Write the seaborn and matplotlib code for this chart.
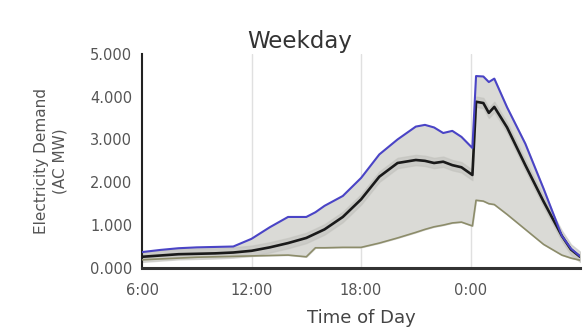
import numpy as np
import pandas as pd
import matplotlib.pyplot as plt
import seaborn as sns

# Hours since midnight (past 24 = next morning)
hours = [6, 7, 8, 9, 10, 11, 12, 13, 14, 15, 15.5, 16, 17, 18, 19, 20, 21, 21.5, 22,
         22.5, 23, 23.5, 24.1, 24.3, 24.7, 25, 25.3, 26, 27, 28, 29, 29.5, 30]

upper = [370, 420, 460, 480, 490, 500, 680, 950, 1190, 1190, 1300, 1450, 1680, 2100,
         2650, 3000, 3300, 3340, 3280, 3150, 3200, 3060, 2800, 4480, 4470, 4340, 4420,
         3750, 2900, 1850, 750, 450, 270]
median = [260, 290, 320, 330, 340, 360, 400, 480, 580, 700, 800, 900, 1190, 1600,
          2130, 2450, 2520, 2500, 2450, 2480, 2400, 2350, 2170, 3880, 3850, 3620, 3760,
          3280, 2400, 1550, 750, 430, 260]
lower = [190, 210, 230, 250, 260, 270, 280, 290, 300, 260, 470, 470, 480, 480,
         580, 700, 830, 900, 960, 1000, 1050, 1070, 980, 1580, 1560, 1500, 1480,
         1250, 900, 550, 300, 230, 180]

tick_hours = [6, 12, 18, 24]
tick_labels = ['6:00', '12:00', '18:00', '0:00']
ytick_vals = [0, 1000, 2000, 3000, 4000, 5000]
ytick_labels = ['0.000', '1.000', '2.000', '3.000', '4.000', '5.000']

df = pd.DataFrame({'hour': hours, 'upper': upper, 'median': median, 'lower': lower})

sns.set_style('white')
plt.rcParams['font.family'] = ['DejaVu Sans']
fig = plt.figure(figsize=(5.83, 3.32), dpi=100)
ax = fig.add_axes([0.2436, 0.193, 0.7514, 0.645])

for h in tick_hours[1:]:
    ax.axvline(h, color='#e0e0e0', lw=1, zorder=0)

ax.fill_between(df['hour'], df['lower'], df['upper'], color='#dadad6', zorder=1)
ax.fill_between(df['hour'], df['median'] - 120, df['median'] + 120, color='#c2c2bd',
                zorder=1, alpha=0.6)

sns.lineplot(data=df, x='hour', y='lower', color='#8c8c6a', lw=1.2, ax=ax, zorder=3)
sns.lineplot(data=df, x='hour', y='median', color='#1a1a1a', lw=1.9, ax=ax, zorder=4)
sns.lineplot(data=df, x='hour', y='upper', color='#4a44c6', lw=1.5, ax=ax, zorder=5)

ax.set_xlim(6, 30)
ax.set_ylim(0, 5000)
ax.set_xticks(tick_hours)
ax.set_xticklabels(tick_labels, fontsize=10.5, color='#555555')
ax.set_yticks(ytick_vals)
ax.set_yticklabels(ytick_labels, fontsize=10.5, color='#555555')
ax.tick_params(axis='x', length=0, pad=11)
ax.tick_params(axis='y', length=0, pad=7)

ax.set_xlabel('Time of Day', fontsize=13, color='#444444', labelpad=8)
ax.set_ylabel('Electricity Demand\n(AC MW)', fontsize=11, color='#555555',
              linespacing=1.25)
ax.yaxis.set_label_coords(-0.171, 0.5)

for side in ['top', 'right']:
    ax.spines[side].set_visible(False)
ax.spines['left'].set_color('#222222')
ax.spines['left'].set_linewidth(1.5)
ax.spines['bottom'].set_color('#333333')
ax.spines['bottom'].set_linewidth(2.2)

ax.text(14.66, 5140, 'Weekday', fontsize=16.5, color='#333333', ha='center',
        va='baseline')

fig.savefig('out.png', dpi=100)
